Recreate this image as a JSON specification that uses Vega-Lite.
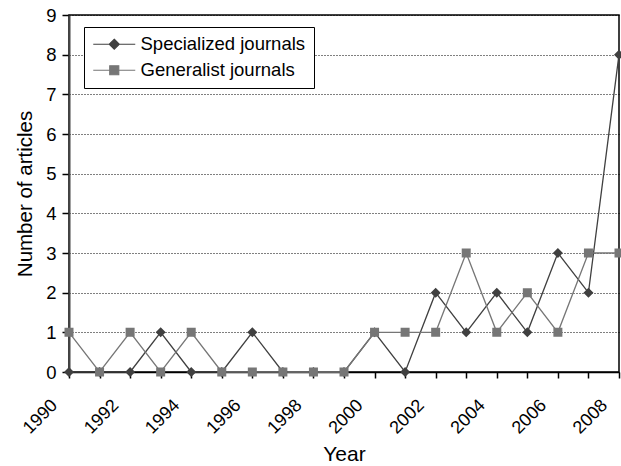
{
  "$schema": "https://vega.github.io/schema/vega-lite/v6.json",
  "width": 550,
  "height": 357,
  "autosize": "none",
  "padding": {"left": 69, "top": 15, "right": 2, "bottom": 94},
  "background": "white",
  "config": {
    "font": "Liberation Sans",
    "view": {"stroke": "black", "strokeWidth": 1.5}
  },
  "data": {
    "values": [
      {"year": 1990, "series": "Specialized journals", "count": 0},
      {"year": 1991, "series": "Specialized journals", "count": 0},
      {"year": 1992, "series": "Specialized journals", "count": 0},
      {"year": 1993, "series": "Specialized journals", "count": 1},
      {"year": 1994, "series": "Specialized journals", "count": 0},
      {"year": 1995, "series": "Specialized journals", "count": 0},
      {"year": 1996, "series": "Specialized journals", "count": 1},
      {"year": 1997, "series": "Specialized journals", "count": 0},
      {"year": 1998, "series": "Specialized journals", "count": 0},
      {"year": 1999, "series": "Specialized journals", "count": 0},
      {"year": 2000, "series": "Specialized journals", "count": 1},
      {"year": 2001, "series": "Specialized journals", "count": 0},
      {"year": 2002, "series": "Specialized journals", "count": 2},
      {"year": 2003, "series": "Specialized journals", "count": 1},
      {"year": 2004, "series": "Specialized journals", "count": 2},
      {"year": 2005, "series": "Specialized journals", "count": 1},
      {"year": 2006, "series": "Specialized journals", "count": 3},
      {"year": 2007, "series": "Specialized journals", "count": 2},
      {"year": 2008, "series": "Specialized journals", "count": 8},
      {"year": 1990, "series": "Generalist journals", "count": 1},
      {"year": 1991, "series": "Generalist journals", "count": 0},
      {"year": 1992, "series": "Generalist journals", "count": 1},
      {"year": 1993, "series": "Generalist journals", "count": 0},
      {"year": 1994, "series": "Generalist journals", "count": 1},
      {"year": 1995, "series": "Generalist journals", "count": 0},
      {"year": 1996, "series": "Generalist journals", "count": 0},
      {"year": 1997, "series": "Generalist journals", "count": 0},
      {"year": 1998, "series": "Generalist journals", "count": 0},
      {"year": 1999, "series": "Generalist journals", "count": 0},
      {"year": 2000, "series": "Generalist journals", "count": 1},
      {"year": 2001, "series": "Generalist journals", "count": 1},
      {"year": 2002, "series": "Generalist journals", "count": 1},
      {"year": 2003, "series": "Generalist journals", "count": 3},
      {"year": 2004, "series": "Generalist journals", "count": 1},
      {"year": 2005, "series": "Generalist journals", "count": 2},
      {"year": 2006, "series": "Generalist journals", "count": 1},
      {"year": 2007, "series": "Generalist journals", "count": 3},
      {"year": 2008, "series": "Generalist journals", "count": 3}
    ]
  },
  "encoding": {
    "x": {
      "field": "year",
      "type": "quantitative",
      "scale": {"domain": [1990, 2008], "nice": false, "zero": false},
      "axis": {
        "title": "Year",
        "values": [1990,1991,1992,1993,1994,1995,1996,1997,1998,1999,2000,2001,2002,2003,2004,2005,2006,2007,2008],
        "labelExpr": "datum.value % 2 == 0 ? format(datum.value, 'd') : ''",
        "labelAngle": -45,
        "labelAlign": "right",
        "labelBaseline": "top",
        "labelFlush": false,
        "labelOverlap": false,
        "labelBound": false,
        "labelFontSize": 18,
        "labelColor": "black",
        "labelPadding": 18,
        "labelOffset": -21,
        "grid": false,
        "domainColor": "black",
        "domainWidth": 1.5,
        "tickColor": "black",
        "tickWidth": 1.5,
        "tickSize": 6,
        "titleFontSize": 21,
        "titleFontWeight": "normal",
        "titleColor": "black",
        "titlePadding": 6
      }
    },
    "y": {
      "field": "count",
      "type": "quantitative",
      "scale": {"domain": [0, 9], "nice": false},
      "axis": {
        "title": "Number of articles",
        "values": [0,1,2,3,4,5,6,7,8,9],
        "labelFontSize": 18.5,
        "labelColor": "black",
        "labelPadding": 6,
        "grid": true,
        "gridColor": "black",
        "gridDash": [1, 2],
        "gridWidth": 1,
        "domainColor": "#444444",
        "domainWidth": 2,
        "tickColor": "black",
        "tickWidth": 1.5,
        "tickSize": 7,
        "titleFontSize": 20.5,
        "titleFontWeight": "normal",
        "titleColor": "black",
        "titlePadding": 10
      }
    },
    "color": {
      "field": "series",
      "type": "nominal",
      "scale": {"domain": ["Specialized journals", "Generalist journals"], "range": ["#404040", "#767676"]},
      "legend": {
        "title": null,
        "orient": "none",
        "legendX": 15,
        "legendY": 12,
        "fillColor": "white",
        "strokeColor": "black",
        "padding": 8,
        "labelFontSize": 18.5,
        "labelColor": "black",
        "labelLimit": 400,
        "symbolSize": 100,
        "symbolStrokeWidth": 1.2,
        "symbolStrokeColor": "#555555",
        "symbolOffset": 13,
        "labelOffset": 17,
        "rowPadding": 7,
        "columnPadding": 0
      }
    }
  },
  "layer": [
    {
      "mark": {"type": "line", "strokeWidth": 1.3},
      "encoding": {
        "order": {"field": "year"}
      }
    },
    {
      "mark": {"type": "point", "filled": true, "opacity": 1, "size": 100},
      "encoding": {
        "shape": {
          "field": "series",
          "type": "nominal",
          "scale": {
            "domain": ["Specialized journals", "Generalist journals"],
            "range": ["M-4.2,0H4.2M0,-1L1,0L0,1L-1,0Z", "M-4.2,0H4.2M-0.9,-0.9H0.9V0.9H-0.9Z"]
          },
          "legend": {
            "title": null,
            "orient": "none",
            "legendX": 15,
            "legendY": 12,
            "fillColor": "white",
            "strokeColor": "black",
            "padding": 8,
            "labelFontSize": 18.5,
            "labelColor": "black",
            "labelLimit": 400,
            "symbolSize": 100,
            "symbolStrokeWidth": 1.2,
            "symbolStrokeColor": "#555555",
            "symbolOffset": 13,
            "labelOffset": 17,
            "rowPadding": 7,
            "columnPadding": 0
          }
        }
      }
    }
  ]
}
